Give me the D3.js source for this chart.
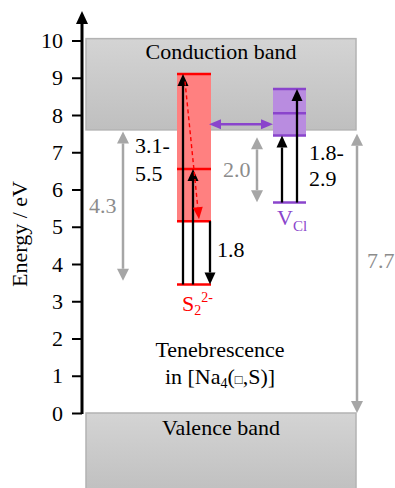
<!DOCTYPE html>
<html>
<head>
<meta charset="utf-8">
<script src="https://cdn.jsdelivr.net/npm/d3@7"></script>
<style>
  body { margin: 0; background: #fff; }
  text { font-family: 'Liberation Serif', 'Times New Roman', serif; }
</style>
</head>
<body>
<div id="chart"></div>
<script>
const width = 395;
const height = 488;

// data (energies in eV)
const energyTicks = d3.range(0, 11);
const bandNames = ['Conduction band', 'Valence band'];
const bandEdges = [[7.6, 10.05], [-2.2, 0]];
const s2Levels = [9.1, 6.55, 5.15];     // box levels of S2 2-
const s2Ground = 3.45;
const vclLevels = [8.7, 8.05, 7.45];    // box levels of V_Cl
const vclGround = 5.65;
const s2Transitions = [[3.45, 9.1], [3.45, 6.55], [5.15, 3.45]];
const vclTransitions = [[5.65, 7.45], [5.65, 8.7]];
const relaxation = [8.9, 5.2];
const transferLevel = 7.75;
const gapRanges = [[3.55, 7.56], [5.66, 7.4], [0, 7.5]];
const gapLabels = ['4.3', '2.0', '7.7'];
const transLabels = ['3.1-', '5.5', '1.8', '1.8-', '2.9'];

const svg = d3.select('#chart')
  .append('svg')
  .attr('width', width)
  .attr('height', height);

const y = d3.scaleLinear().domain([0, 10]).range([413, 40.5]);
const x = d3.scaleLinear().domain([0, 270]).range([86, 356]);  // schematic columns

const RED = '#ff0000', PURPLE = '#8a44cc', GREY = '#a6a6a6';

// draws a straight arrow with a filled head at the end (and start if both)
const arrow = (x1, y1, x2, y2, o) => {
  const dx = x2 - x1, dy = y2 - y1, len = Math.hypot(dx, dy);
  const ux = dx / len, uy = dy / len, px = -uy, py = ux;
  const hl = o.headLen, hw = o.headW / 2;
  const sx = o.both ? x1 + ux * hl : x1, sy = o.both ? y1 + uy * hl : y1;
  svg.append('line')
    .attr('x1', sx).attr('y1', sy)
    .attr('x2', x2 - ux * hl).attr('y2', y2 - uy * hl)
    .attr('stroke', o.color).attr('stroke-width', o.width)
    .attr('stroke-dasharray', o.dash || null);
  const head = (tx, ty, vx, vy) => {
    const bx = tx - vx * hl, by = ty - vy * hl;
    svg.append('path')
      .attr('d', `M${tx},${ty}L${bx + px * hw},${by + py * hw}L${bx - px * hw},${by - py * hw}Z`)
      .attr('fill', o.color);
  };
  head(x2, y2, ux, uy);
  if (o.both) head(x1, y1, -ux, -uy);
};

/* Bands */
const defs = svg.append('defs');
const grad = defs.append('linearGradient').attr('id', 'band').attr('x1', 0).attr('y1', 0).attr('x2', 0).attr('y2', 1);
grad.append('stop').attr('offset', '0%').attr('stop-color', '#d4d4d4');
grad.append('stop').attr('offset', '100%').attr('stop-color', '#bfbfbf');

svg.selectAll('.band')
  .data(bandEdges)
  .enter()
  .append('rect')
  .attr('x', x(0))
  .attr('width', x(270) - x(0))
  .attr('y', d => y(d[1]))
  .attr('height', d => y(d[0]) - y(d[1]))
  .attr('fill', 'url(#band)')
  .attr('stroke', '#b3b3b3')
  .attr('stroke-width', 1.5);

svg.append('text').attr('x', 221).attr('y', 59).attr('text-anchor', 'middle')
  .style('font-size', '22px').text(bandNames[0]);
svg.append('text').attr('x', 221).attr('y', 435).attr('text-anchor', 'middle')
  .style('font-size', '22px').text(bandNames[1]);

/* Axis */
const axis = svg.append('g')
  .attr('transform', 'translate(82,0)')
  .call(d3.axisLeft(y).tickValues(energyTicks).tickSize(10).tickPadding(9).tickFormat(d3.format('d')));
axis.select('.domain').remove();
axis.selectAll('.tick line').attr('stroke', '#000').attr('stroke-width', 2);
axis.selectAll('.tick text').style('font-size', '22px').style('font-family', "'Liberation Serif', serif").attr('fill', '#000');
arrow(82, y(0) + 1, 82, 11, { color: '#000', width: 3, headLen: 13, headW: 12 });

svg.append('text')
  .attr('transform', 'translate(27,234) rotate(-90)')
  .attr('text-anchor', 'middle')
  .style('font-size', '22px')
  .text('Energy / eV');

/* S2 2- centre */
svg.append('rect')
  .attr('x', x(91)).attr('width', x(125) - x(91))
  .attr('y', y(s2Levels[0])).attr('height', y(s2Levels[2]) - y(s2Levels[0]))
  .attr('fill', '#ff8080');
svg.selectAll('.s2lvl')
  .data(s2Levels.concat([s2Ground]))
  .enter()
  .append('line')
  .attr('x1', x(91)).attr('x2', x(125))
  .attr('y1', d => y(d)).attr('y2', d => y(d))
  .attr('stroke', RED).attr('stroke-width', 2.5);

/* V_Cl centre */
svg.append('rect')
  .attr('x', x(187)).attr('width', x(220) - x(187))
  .attr('y', y(vclLevels[0])).attr('height', y(vclLevels[2]) - y(vclLevels[0]))
  .attr('fill', '#b98ce0');
svg.selectAll('.vcllvl')
  .data(vclLevels.concat([vclGround]))
  .enter()
  .append('line')
  .attr('x1', x(187)).attr('x2', x(220))
  .attr('y1', d => y(d)).attr('y2', d => y(d))
  .attr('stroke', PURPLE).attr('stroke-width', 2.5);

/* Transitions */
const s2Cols = [97, 107, 124];
s2Transitions.forEach(([a, b], i) =>
  arrow(x(s2Cols[i]), y(a), x(s2Cols[i]), y(b), { color: '#000', width: 2.3, headLen: 12, headW: 11 }));
const vclCols = [196, 211];
vclTransitions.forEach(([a, b], i) =>
  arrow(x(vclCols[i]), y(a), x(vclCols[i]), y(b), { color: '#000', width: 2.3, headLen: 12, headW: 11 }));

arrow(x(99), y(relaxation[0]), x(113), y(relaxation[1]),
  { color: RED, width: 1.4, headLen: 12, headW: 10, dash: '4,3' });

arrow(x(123), y(transferLevel), x(187), y(transferLevel),
  { color: PURPLE, width: 2.5, headLen: 12, headW: 10, both: true });

const gapCols = [37, 171, 271];
gapRanges.forEach(([a, b], i) =>
  arrow(x(gapCols[i]), y(a), x(gapCols[i]), y(b), { color: GREY, width: 2.5, headLen: 12, headW: 12, both: true }));

/* Labels */
const gapPos = [[89, 213], [223, 177], [367, 268]];
gapLabels.forEach((t, i) =>
  svg.append('text').attr('x', gapPos[i][0]).attr('y', gapPos[i][1])
    .style('font-size', '22px').attr('fill', '#8c8c8c').text(t));

const transPos = [[135, 153], [135, 181], [217, 257], [309, 160], [309, 186]];
transLabels.forEach((t, i) =>
  svg.append('text').attr('x', transPos[i][0]).attr('y', transPos[i][1])
    .style('font-size', '22px').attr('fill', '#000').text(t));

const s2 = svg.append('text').attr('x', 182).attr('y', 311).style('font-size', '22px').attr('fill', RED);
s2.append('tspan').text('S');
s2.append('tspan').attr('dy', 4).style('font-size', '14px').text('2');
s2.append('tspan').attr('dy', -13).style('font-size', '14px').text('2-');

const vcl = svg.append('text').attr('x', 277).attr('y', 225).style('font-size', '22px').attr('fill', PURPLE);
vcl.append('tspan').text('V');
vcl.append('tspan').attr('dy', 6).style('font-size', '15px').text('Cl');

svg.append('text').attr('x', 220).attr('y', 357).attr('text-anchor', 'middle')
  .style('font-size', '22px').text('Tenebrescence');
const inNa = svg.append('text').attr('x', 220).attr('y', 384).attr('text-anchor', 'middle').style('font-size', '22px');
inNa.append('tspan').text('in [Na');
inNa.append('tspan').attr('dy', 4).style('font-size', '14px').text('4');
inNa.append('tspan').attr('dy', -4).text('(');
inNa.append('tspan').style('font-size', '13px').text('\u25A1');
inNa.append('tspan').text(',S)]');
</script>
</body>
</html>
